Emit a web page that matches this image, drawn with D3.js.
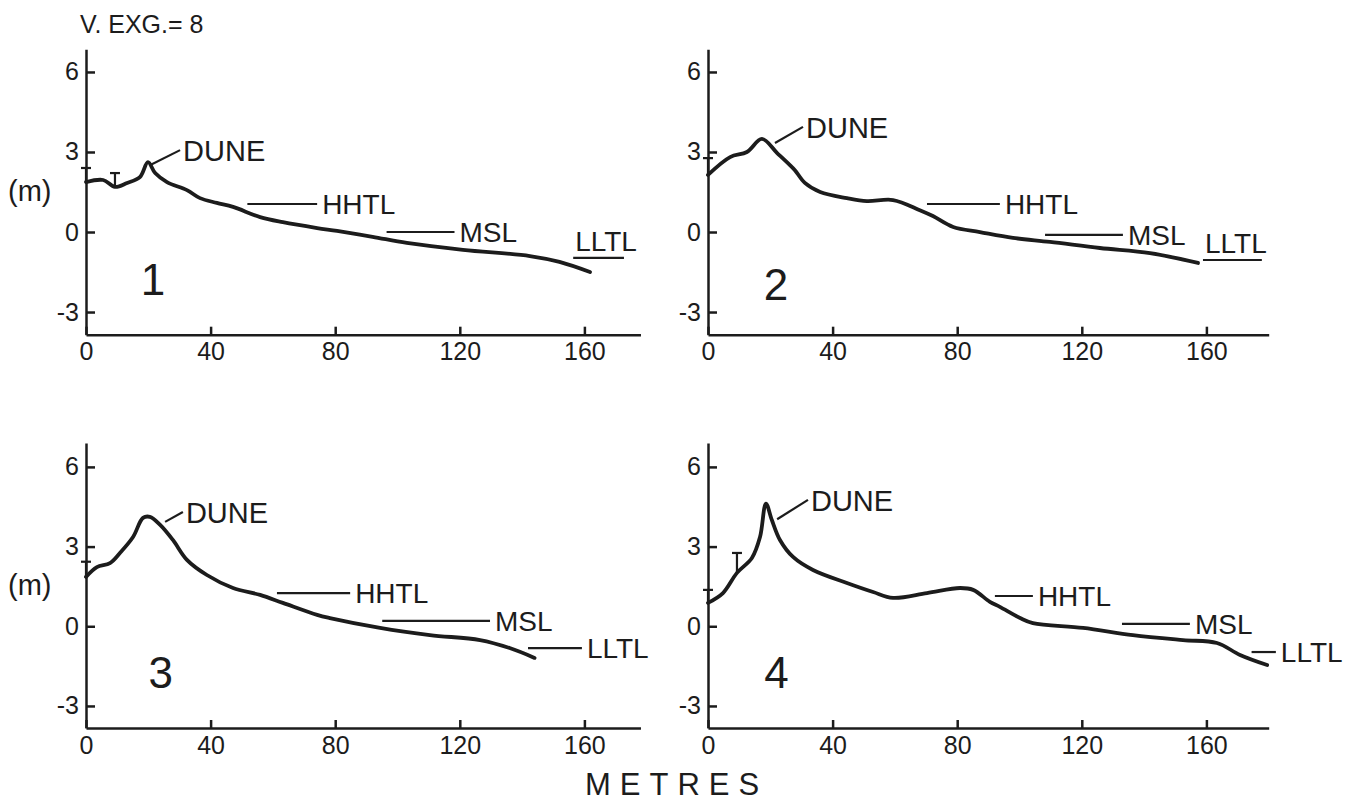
<!DOCTYPE html>
<html>
<head>
<meta charset="utf-8">
<title>Beach profiles 1-4</title>
<script src="https://d3js.org/d3.v7.min.js"></script>
<style>
  body { margin: 0; background: #fff; }
  svg text { font-family: "Liberation Sans", Arial, sans-serif; fill: #1c1c1c; }
  .axis path, .axis line { stroke: #1c1c1c; stroke-width: 2.5; }
  .axis text { font-size: 25px; }
  .profile { fill: none; stroke: #1c1c1c; stroke-width: 3.8; stroke-linejoin: round; stroke-linecap: round; }
  .level, .leader, .marker { stroke: #1c1c1c; stroke-width: 2.2; }
  .lvl-label { font-size: 28px; }
  .dune-label { font-size: 29px; }
  .num-label { font-size: 44px; }
</style>
</head>
<body>
<script>
// profile 1 : distance (m) / elevation (m)
var dist1 = [0, 5.5, 9.3, 13.2, 17.3, 19.9, 22.2, 26, 32.4, 36.6, 42, 47.2, 55.9, 63.2, 74.2, 80.6, 92, 103, 121, 142.5, 152, 161.8];
var elev1 = [1.87, 1.95, 1.69, 1.84, 2.06, 2.62, 2.21, 1.87, 1.57, 1.27, 1.09, 0.94, 0.56, 0.37, 0.15, 0.04, -0.18, -0.41, -0.67, -0.9, -1.12, -1.5];
// profile 2
var dist2 = [0, 7.1, 12.5, 17.3, 22.2, 26.3, 27.9, 31.1, 36, 44.6, 51, 59.4, 68, 72.2, 78.7, 87.3, 97.9, 109.8, 125.8, 141.9, 157.3];
var elev2 = [2.14, 2.81, 3.0, 3.49, 2.96, 2.51, 2.32, 1.84, 1.5, 1.27, 1.16, 1.2, 0.82, 0.6, 0.19, 0, -0.22, -0.37, -0.6, -0.79, -1.16];
// profile 3
var dist3 = [0, 3.5, 7.7, 10.9, 15.1, 18.3, 20.5, 23.8, 27.9, 32.4, 38.8, 47.2, 55.9, 63.2, 74.2, 78.3, 94.4, 110.4, 126.5, 136, 144];
var elev3 = [1.86, 2.23, 2.38, 2.76, 3.36, 4.08, 4.12, 3.82, 3.25, 2.5, 1.93, 1.44, 1.18, 0.88, 0.43, 0.31, -0.06, -0.33, -0.52, -0.82, -1.19];
// profile 4
var dist4 = [0, 4.8, 9.3, 14.1, 16.7, 18.6, 20.5, 23.1, 27.3, 33.7, 44.6, 53, 59.4, 70.3, 80.9, 85.1, 90.5, 93.7, 100.2, 104.3, 120.4, 136.4, 152.5, 163.4, 170.8, 179.5];
var elev4 = [0.88, 1.25, 2.01, 2.57, 3.36, 4.62, 4.0, 3.25, 2.61, 2.12, 1.63, 1.29, 1.07, 1.25, 1.44, 1.37, 0.92, 0.73, 0.31, 0.12, -0.06, -0.33, -0.52, -0.63, -1.08, -1.46];

// tide levels: [name, from (m), to (m), elevation (m), label under line?]
var levels1 = [["HHTL", 51.8, 74.2, 1.05, false], ["MSL", 96.5, 118.3, 0, false], ["LLTL", 156.4, 172.7, -0.97, true]];
var levels2 = [["HHTL", 70.3, 93.7, 1.05, false], ["MSL", 108.2, 133.2, -0.11, false], ["LLTL", 158.9, 177.8, -1.05, true]];
var levels3 = [["HHTL", 61.3, 84.8, 1.25, false], ["MSL", 95.1, 129.7, 0.2, false], ["LLTL", 141.9, 159.2, -0.82, false]];
var levels4 = [["HHTL", 92.1, 104.3, 1.14, false], ["MSL", 132.9, 154.7, 0.09, false], ["LLTL", 174.5, 182.3, -0.97, false]];

// dune leader lines [x1, y1, x2, y2]
var dune1 = [20.5, 2.5, 30.2, 3.07];
var dune2 = [21.5, 3.34, 30.5, 3.94];
var dune3 = [25.4, 3.93, 31.1, 4.3];
var dune4 = [22.2, 4.03, 32.1, 4.76];

// survey marks [distance, top elevation]
var marks1 = [[0, 2.4], [9.3, 2.21]];
var marks2 = [[0, 2.77]];
var marks3 = [[0, 2.43]];
var marks4 = [[0, 1.37], [9.3, 2.76]];

// profile number position [distance, elevation]
var numPos = [[21.5, -2.36], [21.8, -2.55], [24, -2.32], [22, -2.32]];

var xTicks = [0, 40, 80, 120, 160];
var yTicks = [-3, 0, 3, 6];

var W = 1366, H = 801;
var svg = d3.select("body").append("svg").attr("width", W).attr("height", H);

// two rows, two columns
var rows = [
  { domain: [-3.85, 6.85], range: [334.7, 49.3] },
  { domain: [-3.83, 6.9], range: [728, 443] }
];
var cols = [
  { x0: 86, xMax: 178 },
  { x0: 708, xMax: 180 }
];

var panels = [
  { n: "1", dist: dist1, elev: elev1, levels: levels1, dune: dune1, marks: marks1, r: 0, c: 0 },
  { n: "2", dist: dist2, elev: elev2, levels: levels2, dune: dune2, marks: marks2, r: 0, c: 1 },
  { n: "3", dist: dist3, elev: elev3, levels: levels3, dune: dune3, marks: marks3, r: 1, c: 0 },
  { n: "4", dist: dist4, elev: elev4, levels: levels4, dune: dune4, marks: marks4, r: 1, c: 1 }
];

panels.forEach(function(p, i) {
  var col = cols[p.c], row = rows[p.r];
  var x = d3.scaleLinear().domain([0, col.xMax]).range([col.x0, col.x0 + col.xMax * 3.115]);
  var y = d3.scaleLinear().domain(row.domain).range(row.range);
  var g = svg.append("g");

  g.append("g").attr("class", "axis")
    .attr("transform", "translate(0," + row.range[0] + ")")
    .call(d3.axisBottom(x).tickValues(xTicks).tickSize(-8).tickSizeOuter(0).tickPadding(8).tickFormat(String));

  g.append("g").attr("class", "axis")
    .attr("transform", "translate(" + col.x0 + ",0)")
    .call(d3.axisLeft(y).tickValues(yTicks).tickSize(-9).tickSizeOuter(0).tickPadding(7).tickFormat(String));

  var pts = p.dist.map(function(d, k) { return [d, p.elev[k]]; });
  var line = d3.line().x(function(d) { return x(d[0]); }).y(function(d) { return y(d[1]); })
    .curve(d3.curveCatmullRom.alpha(0.5));
  g.append("path").attr("class", "profile").attr("d", line(pts));

  // survey marks
  p.marks.forEach(function(m) {
    var k = d3.bisectLeft(p.dist, m[0]);
    var e = p.elev[Math.min(k, p.elev.length - 1)];
    if (k > 0 && p.dist[k] !== m[0]) {
      var t = (m[0] - p.dist[k - 1]) / (p.dist[k] - p.dist[k - 1]);
      e = p.elev[k - 1] + t * (p.elev[k] - p.elev[k - 1]);
    }
    g.append("line").attr("class", "marker")
      .attr("x1", x(m[0]) - 5).attr("x2", x(m[0]) + 5)
      .attr("y1", y(m[1])).attr("y2", y(m[1]));
    g.append("line").attr("class", "marker")
      .attr("x1", x(m[0])).attr("x2", x(m[0]))
      .attr("y1", y(m[1])).attr("y2", y(e));
  });

  // dune label
  g.append("line").attr("class", "leader")
    .attr("x1", x(p.dune[0])).attr("y1", y(p.dune[1]))
    .attr("x2", x(p.dune[2])).attr("y2", y(p.dune[3]));
  g.append("text").attr("class", "dune-label")
    .attr("x", x(p.dune[2]) + 3).attr("y", y(p.dune[3]) + 11)
    .text("DUNE");

  // tide levels
  p.levels.forEach(function(l) {
    g.append("line").attr("class", "level")
      .attr("x1", x(l[1])).attr("x2", x(l[2]))
      .attr("y1", y(l[3])).attr("y2", y(l[3]));
    g.append("text").attr("class", "lvl-label")
      .attr("x", l[4] ? x(l[1]) + 2 : x(l[2]) + 5)
      .attr("y", l[4] ? y(l[3]) - 7 : y(l[3]) + 10)
      .text(l[0]);
  });

  g.append("text").attr("class", "num-label")
    .attr("x", x(numPos[i][0])).attr("y", y(numPos[i][1]))
    .attr("text-anchor", "middle")
    .text(p.n);

  if (p.c === 0) {
    g.append("text").attr("x", 8).attr("y", y(1.5) + 9)
      .style("font-size", "29px").text("(m)");
  }
});

svg.append("text").attr("x", 80).attr("y", 33).style("font-size", "25px").text("V. EXG.= 8");

svg.append("text").attr("x", 585).attr("y", 795)
  .style("font-size", "31px").style("letter-spacing", "9px")
  .text("METRES");
</script>
</body>
</html>
